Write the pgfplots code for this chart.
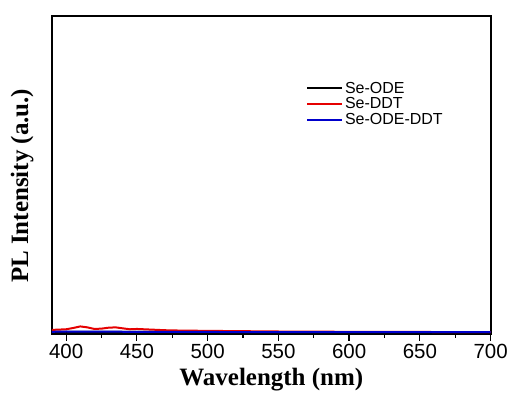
\documentclass[border=0pt]{standalone}
\usepackage{fontspec}
\setmainfont{Liberation Sans}
\newfontfamily\timesfont{Liberation Serif}
\usepackage{pgfplots}
\pgfplotsset{compat=1.18}
\begin{document}
\begin{tikzpicture}
\begin{axis}[
    scale only axis,
    width=439pt, height=318pt,
    xmin=390, xmax=700, ymin=0, ymax=100,
    axis line style={line width=2pt},
    xtick={400,450,...,700},
    minor xtick={425,475,...,675},
    ytick=\empty,
    xtick pos=bottom,
    tick align=outside,
    major tick length=7pt, minor tick length=4pt,
    every tick/.style={black, line width=1.2pt},
    /pgf/number format/assume math mode=true,
    /pgf/number format/1000 sep={},
    xticklabel style={font=\fontsize{20.5}{22}\selectfont, yshift=0pt},
    xlabel={\timesfont\bfseries Wavelength (nm)},
    ylabel={\timesfont\bfseries PL Intensity (a.u.)},
    label style={font=\fontsize{25}{28}\selectfont},
    xlabel style={yshift=-3pt},
    ylabel style={yshift=8pt, xshift=-11pt},
    legend style={draw=none, fill=none, at={(0.572,0.805)}, anchor=north west,
        font=\fontsize{16}{17}\selectfont, row sep=-1pt},
    legend cell align=left,
    legend image post style={line width=2pt},
    legend image code/.code={\draw[#1] (0pt,0pt) -- (35pt,0pt);},
]
\addplot[black, line width=2pt] coordinates {
(390,0.6) (400,0.6) (450,0.6) (500,0.55) (550,0.5) (600,0.5) (650,0.5) (700,0.5)};
\addlegendentry{Se-ODE}
\addplot[red!90!black, line width=2pt] coordinates {
(390,1.2) (400,1.4) (405,1.8) (410,2.3) (415,2.0) (420,1.5) (425,1.6) (430,1.9)
(435,2.0) (440,1.7) (445,1.4) (450,1.5) (460,1.3) (470,1.1) (480,1.0) (500,0.9)
(550,0.7) (600,0.6) (650,0.55) (700,0.5)};
\addlegendentry{Se-DDT}
\addplot[blue!80!black, line width=2pt] coordinates {
(390,0.6) (400,0.7) (450,0.6) (500,0.55) (550,0.5) (600,0.5) (650,0.5) (700,0.5)};
\addlegendentry{Se-ODE-DDT}
\end{axis}
\path (-52pt,-68pt) rectangle (459pt,334pt);
\end{tikzpicture}
\end{document}
